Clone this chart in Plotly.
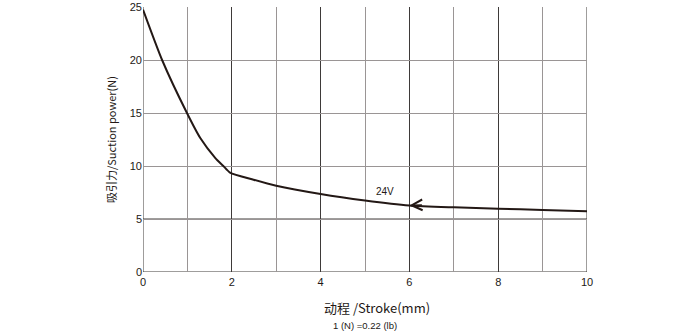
import plotly.graph_objects as go

stroke_mm = [0, 0.43, 0.99, 1.29, 1.63, 1.81, 1.96, 2.49, 3.0, 4.0, 5.0, 6.0, 7.0, 8.0, 9.0, 10.0]
force_n = [24.75, 20.0, 15.0, 12.64, 10.75, 10.0, 9.38, 8.71, 8.14, 7.36, 6.75, 6.28, 6.1, 5.97, 5.85, 5.72]

x_ticks = [0, 2, 4, 6, 8, 10]
y_ticks = [0, 5, 10, 15, 20, 25]

label_text = "24V"
label_x, label_y = 5.45, 7.6
arrow_x, arrow_y = 6.0, 6.28

ink = "#231815"
dark = "#3e3a39"
gray = "#9a9595"

fig = go.Figure()
fig.add_trace(go.Scatter(x=stroke_mm, y=force_n, mode="lines",
                         line=dict(color=ink, width=2, shape="spline", smoothing=0.6),
                         hoverinfo="skip", showlegend=False))

fig.add_annotation(x=label_x, y=label_y, text=label_text, showarrow=False,
                   font=dict(size=10, color=ink, family="Liberation Sans, Arial"))
fig.add_annotation(x=arrow_x, y=arrow_y, text="", showarrow=True,
                   ax=14, ay=-0.6, arrowhead=5, arrowsize=1.4, arrowwidth=1.5,
                   arrowcolor=ink, standoff=0)

fig.add_annotation(xref="paper", yref="paper", x=0.528, y=-0.135, yanchor="middle",
                   text="动程 /Stroke(mm)", showarrow=False,
                   font=dict(size=13, color=ink, family="Noto Sans CJK SC"))
fig.add_annotation(xref="paper", yref="paper", x=0.50, y=-0.2, yanchor="middle",
                   text="1 (N) =0.22 (lb)", showarrow=False,
                   font=dict(size=9.5, color=ink, family="Liberation Sans, Arial"))

fig.update_xaxes(range=[0, 10], tickvals=x_ticks, ticks="", showline=False,
                 showgrid=True, gridcolor=dark, gridwidth=1, zeroline=False,
                 minor=dict(dtick=1, showgrid=True, gridcolor=gray, gridwidth=1),
                 tickfont=dict(size=11, color=ink, family="Liberation Sans, Arial"),
                 ticklabelstandoff=2, automargin=False)
fig.update_yaxes(range=[0, 25], tickvals=y_ticks, ticks="", showline=False,
                 showgrid=True, gridcolor=gray, gridwidth=1, zeroline=False,
                 tickfont=dict(size=11, color=ink, family="Liberation Sans, Arial"),
                 automargin=False,
                 title=dict(text="吸引力/Suction power(N)", standoff=10,
                            font=dict(size=11, color=ink, family="Noto Sans CJK SC")))

# dark lines: y=5, y=0 and frame edges
for yv in [0, 5]:
    fig.add_hline(y=yv, line=dict(color=dark, width=1), layer="below")
fig.add_vline(x=0, line=dict(color=dark, width=1), layer="below")
fig.add_vline(x=10, line=dict(color=dark, width=1), layer="below")

fig.update_layout(width=690, height=331, margin=dict(l=143, r=103, t=7, b=59),
                  plot_bgcolor="white", paper_bgcolor="white")

fig.write_html("out.html", config={"displayModeBar": False},
               post_script="document.body.style.margin='0';")
